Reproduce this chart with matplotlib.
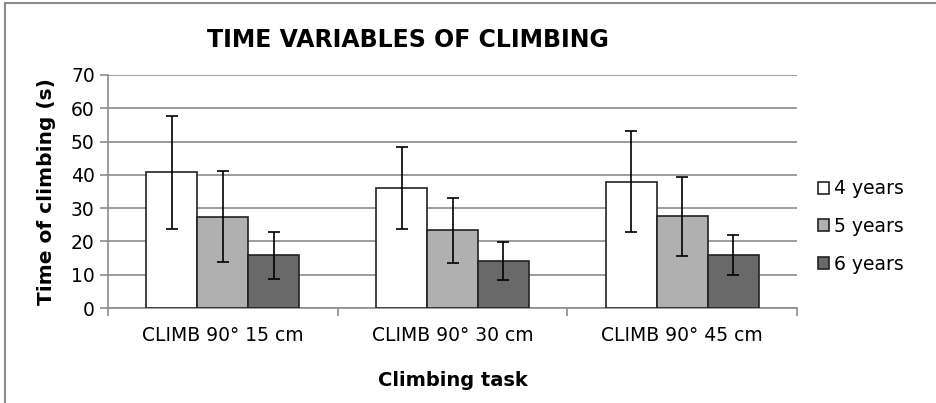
import matplotlib
matplotlib.use("Agg")
import matplotlib.pyplot as plt
import numpy as np
from matplotlib.lines import Line2D

categories = ["CLIMB 90° 15 cm", "CLIMB 90° 30 cm", "CLIMB 90° 45 cm"]
series_names = ["4 years", "5 years", "6 years"]
means_4 = [40.8, 36.0, 38.0]
means_5 = [27.4, 23.3, 27.5]
means_6 = [15.8, 14.2, 15.9]
sd_4 = [17.0, 12.3, 15.2]
sd_5 = [13.7, 9.7, 11.8]
sd_6 = [7.0, 5.7, 6.1]
yticks = [0, 10, 20, 30, 40, 50, 60, 70]

colors = ["#ffffff", "#b0b0b0", "#696969"]
W, H = 936, 403

fig = plt.figure(figsize=(W/100, H/100), dpi=100)
ax = fig.add_axes([108/W, 1-308/H, (797-108)/W, (308-75)/H])

x = np.arange(len(categories))
w = 0.222
for i, (m, s) in enumerate(zip([means_4, means_5, means_6], [sd_4, sd_5, sd_6])):
    ax.bar(x + (i-1)*w, m, width=w, color=colors[i], edgecolor="#222222",
           linewidth=1.2, label=series_names[i], zorder=3,
           yerr=s, error_kw=dict(ecolor="black", elinewidth=1.2, capsize=4, capthick=1.2, zorder=4))

ax.set_xlim(-0.5, 2.5)
ax.set_ylim(0, 70)
ax.set_yticks(yticks)
ax.yaxis.grid(True, color="#8c8c8c", linewidth=1.2, zorder=0)
ax.set_axisbelow(True)
for sp in ["top", "right"]:
    ax.spines[sp].set_visible(False)
for sp in ["left", "bottom"]:
    ax.spines[sp].set_color("#8c8c8c")
    ax.spines[sp].set_linewidth(1.2)
ax.set_xticks([-0.5, 0.5, 1.5, 2.5])
ax.set_xticklabels([])
ax.set_xticks(x, minor=True)
ax.set_xticklabels(categories, minor=True, fontsize=13.5)
ax.tick_params(axis="x", which="minor", length=0, pad=13)
ax.tick_params(axis="x", which="major", length=6, color="#8c8c8c", width=1.2)
ax.tick_params(axis="y", length=5.5, color="#8c8c8c", width=1.2, labelsize=13.5, pad=4)

ax.set_ylabel("Time of climbing (s)", fontsize=14.5, fontweight="bold", labelpad=11)
ax.set_xlabel("Climbing task", fontsize=14, fontweight="bold", labelpad=19)
fig.text(408/W, 1-40/H, "TIME VARIABLES OF CLIMBING", fontsize=17, fontweight="bold",
         ha="center", va="center")

leg = ax.legend(loc="center left", bbox_to_anchor=(1.03, 0.35), frameon=False,
                fontsize=13.5, handlelength=0.6, handleheight=0.6, handletextpad=0.25,
                labelspacing=1.0, borderpad=0, borderaxespad=0)

fig.lines.append(Line2D([5/W, 5/W], [0, 1-3/H], transform=fig.transFigure,
                        color="#8c8c8c", linewidth=1.5))
fig.lines.append(Line2D([5/W, 1], [1-3/H, 1-3/H], transform=fig.transFigure,
                        color="#8c8c8c", linewidth=1.5))

fig.savefig("out.png", dpi=100)
